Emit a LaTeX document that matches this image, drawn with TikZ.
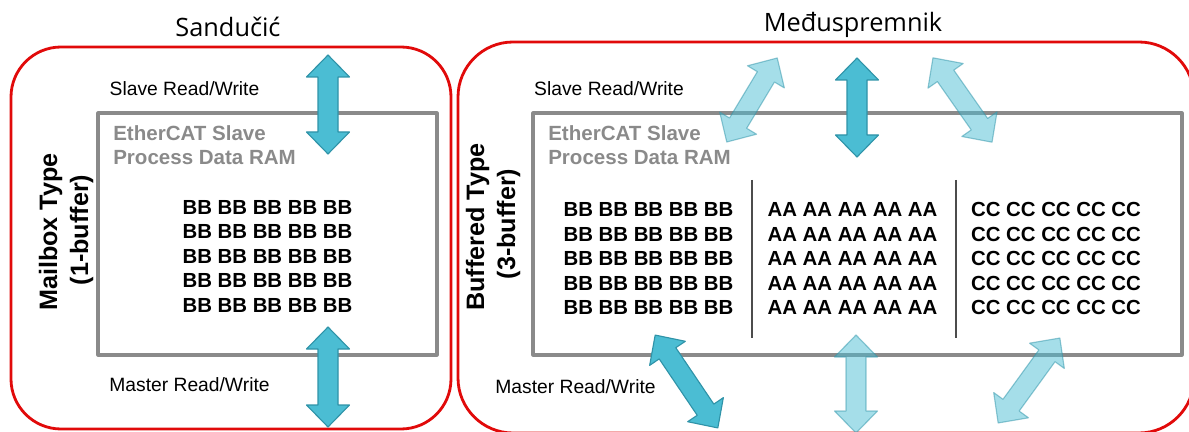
\documentclass[tikz,border=0pt]{standalone}
\usepackage{fontspec}
\setmainfont{Liberation Sans}
\newfontfamily\titlefont{Open Sans}
\definecolor{boxred}{HTML}{E10A0A}
\definecolor{ramgray}{HTML}{8A8A8A}
\definecolor{arrfill}{HTML}{4BBDD3}
\definecolor{arredge}{HTML}{2F93A8}
\tikzset{
  pics/dblarr/.style={code={
      \path[pic actions] (-#1,0)--(-#1+22,21.5)--(-#1+22,10)--(#1-22,10)--(#1-22,21.5)--(#1,0)
      --(#1-22,-21.5)--(#1-22,-10)--(-#1+22,-10)--(-#1+22,-21.5)--cycle;
  }}
}
\begin{document}
\begin{tikzpicture}[x=0.025cm,y=-0.025cm,line join=round,
    panel/.style={draw=boxred,line width=2pt},
    ram/.style={draw=ramgray,line width=2.2pt},
    divider/.style={draw=black!70,line width=1pt},
    title/.style={font=\titlefont\fontsize{18}{20}\selectfont,anchor=base,inner sep=0},
    rw/.style={font=\fontsize{13.7}{15}\selectfont,inner sep=0},
    ramlabel/.style={font=\bfseries\fontsize{14.6}{17}\selectfont,text=ramgray,anchor=west,inner sep=0},
    cell/.style={font=\bfseries\fontsize{14.5}{17}\selectfont,inner sep=0},
    kind/.style={font=\bfseries\fontsize{17.9}{21}\selectfont,rotate=90,anchor=base,inner sep=0},
    darkarr/.style={fill=arrfill,draw=arredge,line width=0.8pt},
    lightarr/.style={fill=arrfill,draw=arredge,line width=0.8pt,fill opacity=0.5,draw opacity=0.5}]
  \useasboundingbox (0,0) rectangle (1189,432);
  \clip (0,0) rectangle (1189,432);
  % panels
  \draw[panel,rounded corners=1.25cm] (11,47) rectangle (451,429);
  \draw[panel,rounded corners=1.375cm] (458,42) rectangle (1194,433);
  \node[title] (mailbox) at (228,37) {Sandučić};
  \node[title] (buffered) at (853,32) {Međuspremnik};
  % one buffer
  \draw[ram] (98,113) rectangle (437,355);
  \node[ramlabel] (ramA) at (113,133) {EtherCAT Slave};
  \node[ramlabel] (ramB) at (113,158) {Process Data RAM};
  \node[kind] (mbxA) at (57,232) {Mailbox Type};
  \node[kind] (mbxB) at (88,230) {(1-buffer)};
  \node[rw] (slaveA) at (184.5,89) {Slave Read/Write};
  \node[rw] (masterA) at (189.5,385) {Master Read/Write};
  \foreach \r in {0,...,4}
  \node[cell] (bb\r) at (267.5,{207+24.6*\r}) {BB BB BB BB BB};
  % three buffers
  \draw[ram] (533,113) rectangle (1182,355);
  \node[ramlabel] (ramC) at (548,133) {EtherCAT Slave};
  \node[ramlabel] (ramD) at (548,158) {Process Data RAM};
  \node[kind] (bufA) at (484,227) {Buffered Type};
  \node[kind] (bufB) at (515,224) {(3-buffer)};
  \node[rw] (slaveB) at (609,89) {Slave Read/Write};
  \node[rw] (masterB) at (575.5,387) {Master Read/Write};
  \draw[divider] (752,180)--(752,338);
  \draw[divider] (956,180)--(956,338);
  \foreach \r in {0,...,4}{
    \node[cell] (bbr\r) at (648.5,{209.5+24.6*\r}) {BB BB BB BB BB};
    \node[cell] (aa\r) at (852.5,{209.5+24.6*\r}) {AA AA AA AA AA};
    \node[cell] (cc\r) at (1056,{209.5+24.6*\r}) {CC CC CC CC CC};
  }
  % arrows
  \pic[darkarr,rotate=90] at (328,104.5) {dblarr=49.5};
  \pic[darkarr,rotate=90] at (328,377) {dblarr=50};
  \pic[darkarr,rotate=90] at (857,107.5) {dblarr=49.5};
  \pic[lightarr,rotate=59] at (752,100) {dblarr=49};
  \pic[lightarr,rotate=-55] at (962.5,100) {dblarr=51.5};
  \pic[darkarr,rotate=-56] at (686.5,381.5) {dblarr=56};
  \pic[lightarr,rotate=90] at (856,384) {dblarr=49};
  \pic[lightarr,rotate=54] at (1029,380.5) {dblarr=52.5};
\end{tikzpicture}
\end{document}
